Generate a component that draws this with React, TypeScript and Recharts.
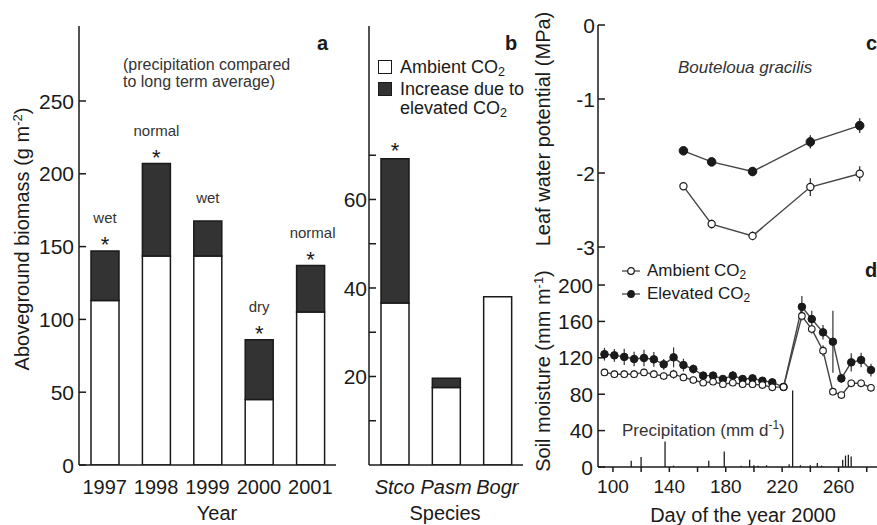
import React from "react";
import {
  BarChart, Bar, ComposedChart, Line, XAxis, YAxis,
  ErrorBar, LabelList, Legend, Label,
} from "recharts";

// ─── STYLE ────────────────────────────────────────────────────────────────────

const FONT = '"Liberation Sans", Arial, Helvetica, sans-serif';
const INK = "#1a1a1a";
const DARK = "#333333";
const LINE = "#444444";
const AXIS = { stroke: INK, strokeWidth: 1.5 };

// ─── DATA ─────────────────────────────────────────────────────────────────────

// a: aboveground biomass by year
const years = ["1997", "1998", "1999", "2000", "2001"];
const biomassAmbient = [113, 143.5, 143.5, 45, 105];
const biomassElevated = [147, 207, 167.5, 86, 137];
const precipNotes = ["wet", "normal", "wet", "dry", "normal"];
const biomassSig = [true, true, false, true, true];
const biomassTicks = [0, 50, 100, 150, 200, 250];

// b: biomass by species
const species = ["Stco", "Pasm", "Bogr"];
const speciesAmbient = [36.6, 17.5, 38];
const speciesElevated = [69.2, 19.6, 38];
const speciesSig = [true, false, false];
const speciesTicks = [10, 20, 30, 40, 50, 60, 70];
const speciesLabels = [20, 40, 60];

// c: leaf water potential, Bouteloua gracilis
const lwpDays = [150, 170, 199, 240, 275];
const lwpAmbient = [-2.18, -2.69, -2.85, -2.19, -2.01];
const lwpAmbientErr = [0.05, 0.06, 0.06, 0.12, 0.1];
const lwpElevated = [-1.7, -1.85, -1.98, -1.58, -1.36];
const lwpElevatedErr = [0.04, 0.05, 0.06, 0.09, 0.1];
const lwpTicks = [-3, -2, -1, 0];

// d: soil moisture + precipitation
const moistDays = [94, 101, 108, 115, 122, 129, 136, 143, 150, 157, 164, 171, 178, 185, 192, 199, 206, 213, 221, 234, 241, 249, 256, 262, 269, 276, 283];
const moistAmbient = [104, 102, 102, 102, 104, 102, 100, 102, 98.5, 95.6, 92.6, 93.7, 91, 92.6, 91, 91, 90, 87.6, 88, 166, 151.6, 127.8, 82.8, 79, 92, 92, 87];
const moistAmbientErr = [4, 4, 4, 4, 4, 4, 4, 5, 4, 4, 3, 3, 3, 3, 3, 3, 3, 3, 3, 5, 5, 6, 4, 3, 4, 4, 4];
const moistElevated = [124, 122.7, 121, 118.7, 119.8, 118.3, 112.8, 120.5, 112, 107.7, 100.4, 100.4, 96.7, 100.4, 96.7, 97.4, 94.8, 93, 88, 176, 162.6, 148, 137.7, 97.4, 115, 117.6, 106.6];
const moistElevatedErr = [7, 7, 9, 8, 9, 8, 6, 11, 7, 5, 4, 4, 4, 5, 4, 4, 4, 4, 3, 12, 9, 8, 34, 5, 10, 8, 7];
const precipDays = [113, 120, 137, 143, 168, 179, 191, 197, 200, 203, 209, 225, 227.5, 233, 240, 245, 248, 263, 265, 267, 269];
const precipValues = [7, 11, 28, 1.5, 7, 17, 1.5, 8, 2, 1.5, 2, 3, 84, 2, 2, 4.5, 1.5, 8, 12.5, 13.5, 11.5];
const moistTicks = [0, 40, 80, 120, 160, 200];
const dayTicks = [100, 120, 140, 160, 180, 200, 220, 240, 260, 280];
const dayLabels = [100, 140, 180, 220, 260];

// ─── ROWS ─────────────────────────────────────────────────────────────────────

const biomassRows = years.map((y, i) => ({
  year: y,
  amb: biomassAmbient[i],
  inc: biomassElevated[i] - biomassAmbient[i],
}));

const speciesRows = species.map((s, i) => ({
  sp: s,
  amb: speciesAmbient[i],
  inc: speciesElevated[i] - speciesAmbient[i],
}));

const lwpRows = lwpDays.map((d, i) => ({
  day: d,
  amb: lwpAmbient[i], ambErr: lwpAmbientErr[i],
  elev: lwpElevated[i], elevErr: lwpElevatedErr[i],
}));

const moistRows = moistDays.map((d, i) => ({
  day: d,
  amb: moistAmbient[i], ambErr: moistAmbientErr[i],
  elev: moistElevated[i], elevErr: moistElevatedErr[i],
}));

const precipRows = precipDays.map((d, i) => ({ day: d, p: precipValues[i] }));

// ─── TICKS ────────────────────────────────────────────────────────────────────

// y ticks drawn inward, label to the left
function leftTick(size: number, gap: number, labels?: number[]) {
  return ({ x, y, payload }: any) => {
    const show = !labels || labels.includes(payload.value);
    return (
      <g>
        <line x1={x} x2={x + 7} y1={y} y2={y} stroke={INK} strokeWidth={1.5} />
        {show && (
          <text x={x - gap} y={y} dy="0.36em" textAnchor="end" fontSize={size} fill={INK}>
            {payload.value}
          </text>
        )}
      </g>
    );
  };
}

function catTick(italic: boolean) {
  return ({ x, y, payload }: any) => (
    <text x={x} y={y + 29} textAnchor="middle" fontSize={20} fill={INK} fontStyle={italic ? "italic" : "normal"}>
      {payload.value}
    </text>
  );
}

const upTick = ({ x, y }: any) => (
  <line x1={x} x2={x} y1={y} y2={y - 7} stroke={INK} strokeWidth={1.5} />
);

const downTick = ({ x, y, payload }: any) => (
  <g>
    <line x1={x} x2={x} y1={y} y2={y + 5} stroke={INK} strokeWidth={1.5} />
    {dayLabels.includes(payload.value) && (
      <text x={x} y={y + 26} textAnchor="middle" fontSize={19} fill={INK}>{payload.value}</text>
    )}
  </g>
);

// ─── TITLES ───────────────────────────────────────────────────────────────────

function yTitle(content: React.ReactNode, cx: number, cy: number) {
  return () => (
    <text x={cx} y={cy} dy="0.36em" transform={`rotate(-90 ${cx} ${cy})`} textAnchor="middle" fontSize={20} fill={INK}>
      {content}
    </text>
  );
}

function xTitle(text: string, cx: number, cy: number) {
  return () => (
    <text x={cx} y={cy} dy="0.36em" textAnchor="middle" fontSize={20} fill={INK}>{text}</text>
  );
}

const Sub = ({ children }: { children: React.ReactNode }) => (
  <sub style={{ fontSize: "0.7em", verticalAlign: "-0.25em", lineHeight: 0 }}>{children}</sub>
);

// ─── BAR LABELS ───────────────────────────────────────────────────────────────

const biomassTop = (props: any) => {
  const { x, y, width, index } = props;
  const cx = x + width / 2;
  const sig = biomassSig[index];
  return (
    <g>
      {sig && <text x={cx} y={y + 1} textAnchor="middle" fontSize={22} fill={INK}>*</text>}
      <text x={cx + (index === 4 ? 2 : 0)} y={y - (sig ? 28 : 18)} textAnchor="middle" fontSize={15} fill={DARK}>
        {precipNotes[index]}
      </text>
    </g>
  );
};

const speciesTop = (props: any) => {
  const { x, y, width, index } = props;
  if (!speciesSig[index]) return null;
  return <text x={x + width / 2} y={y - 1} textAnchor="middle" fontSize={22} fill={INK}>*</text>;
};

// ─── LEGENDS ──────────────────────────────────────────────────────────────────

const Swatch = ({ fill }: { fill: string }) => (
  <span style={{ display: "inline-block", width: 12, height: 12, border: `1.5px solid ${INK}`, background: fill, marginRight: 8, marginTop: 2, flex: "none" }} />
);

const speciesLegend = () => (
  <div style={{ fontSize: 18, lineHeight: "19px", color: INK, fontFamily: FONT }}>
    <div style={{ display: "flex", alignItems: "flex-start", marginBottom: 3 }}>
      <Swatch fill="#fff" /><span>Ambient CO<Sub>2</Sub></span>
    </div>
    <div style={{ display: "flex", alignItems: "flex-start" }}>
      <Swatch fill={DARK} /><span>Increase due to<br />elevated CO<Sub>2</Sub></span>
    </div>
  </div>
);

const LegendMark = ({ fill }: { fill: string }) => (
  <svg width={18} height={10} style={{ marginRight: 7 }}>
    <line x1={0} x2={18} y1={5} y2={5} stroke={LINE} strokeWidth={1.3} />
    <circle cx={9} cy={5} r={3.3} fill={fill} stroke={INK} strokeWidth={1.2} />
  </svg>
);

const moistLegend = () => (
  <div style={{ fontSize: 17, lineHeight: "23px", color: INK, fontFamily: FONT }}>
    <div style={{ display: "flex", alignItems: "center" }}>
      <LegendMark fill="#fff" /><span>Ambient CO<Sub>2</Sub></span>
    </div>
    <div style={{ display: "flex", alignItems: "center" }}>
      <LegendMark fill={INK} /><span>Elevated CO<Sub>2</Sub></span>
    </div>
  </div>
);

// ─── FREE TEXT ────────────────────────────────────────────────────────────────

function Note({ x, y, size, bold, italic, color, children }: any) {
  return (
    <div style={{
      position: "absolute", left: x, top: y - size / 2, fontSize: size, lineHeight: 1,
      fontWeight: bold ? 700 : 400, fontStyle: italic ? "italic" : "normal",
      color: color ?? INK, whiteSpace: "nowrap",
    }}>
      {children}
    </div>
  );
}

// ─── PANELS ───────────────────────────────────────────────────────────────────

function PanelA() {
  return (
    <div style={{ position: "absolute", left: 0, top: 0 }}>
      <BarChart width={340} height={525} data={biomassRows} margin={{ top: 26, right: 4, bottom: 0, left: 0 }}>
        <XAxis dataKey="year" height={60} tickSize={0} tickMargin={0} tickLine={false} interval={0} tick={catTick(false)} axisLine={AXIS}>
          <Label content={xTitle("Year", 217, 513)} />
        </XAxis>
        <XAxis xAxisId="top" dataKey="year" orientation="top" height={0} tick={false} tickLine={false} axisLine={AXIS} />
        <YAxis width={79} domain={[0, 301.5]} allowDataOverflow ticks={biomassTicks} interval={0} tickSize={0} tickMargin={0} tickLine={false} tick={leftTick(21, 5)} axisLine={AXIS}>
          <Label content={yTitle(<><tspan>Aboveground biomass (g m</tspan><tspan dy={-7} fontSize={13}>-2</tspan><tspan dy={7}>)</tspan></>, 22, 239)} />
        </YAxis>
        <YAxis yAxisId="right" orientation="right" width={0} domain={[0, 1]} tick={false} tickLine={false} axisLine={AXIS} />
        <Bar dataKey="amb" stackId="s" barSize={28} fill="#fff" stroke={INK} strokeWidth={1.5} isAnimationActive={false} />
        <Bar dataKey="inc" stackId="s" barSize={28} fill={DARK} stroke={INK} strokeWidth={1.5} isAnimationActive={false}>
          <LabelList dataKey="inc" content={biomassTop} />
        </Bar>
      </BarChart>
    </div>
  );
}

function PanelB() {
  return (
    <div style={{ position: "absolute", left: 340, top: 0 }}>
      <BarChart width={185} height={525} data={speciesRows} margin={{ top: 26, right: 2, bottom: 0, left: 0 }}>
        <XAxis dataKey="sp" height={60} tickSize={0} tickMargin={0} tickLine={false} interval={0} tick={catTick(true)} axisLine={AXIS}>
          <Label content={xTitle("Species", 105, 513)} />
        </XAxis>
        <XAxis xAxisId="top" dataKey="sp" orientation="top" height={0} tick={false} tickLine={false} axisLine={AXIS} />
        <YAxis width={29} domain={[0, 99.2]} allowDataOverflow ticks={speciesTicks} interval={0} tickSize={0} tickMargin={0} tickLine={false} tick={leftTick(21, 2, speciesLabels)} axisLine={AXIS} />
        <YAxis yAxisId="right" orientation="right" width={0} domain={[0, 1]} tick={false} tickLine={false} axisLine={AXIS} />
        <Legend layout="horizontal" verticalAlign="middle" align="center" content={speciesLegend} wrapperStyle={{ left: 38, top: 58, width: "auto" }} />
        <Bar dataKey="amb" stackId="s" barSize={28} fill="#fff" stroke={INK} strokeWidth={1.5} isAnimationActive={false} />
        <Bar dataKey="inc" stackId="s" barSize={28} fill={DARK} stroke={INK} strokeWidth={1.5} isAnimationActive={false}>
          <LabelList dataKey="inc" content={speciesTop} />
        </Bar>
      </BarChart>
    </div>
  );
}

const DAY_DOMAIN: [number, number] = [89.4, 289.4];

function PanelC() {
  // extra bottom margin keeps the "-3" label inside the svg
  return (
    <div style={{ position: "absolute", left: 520, top: 0 }}>
      <ComposedChart width={360} height={262} data={lwpRows} margin={{ top: 25, right: 0, bottom: 15, left: 0 }}>
        <XAxis dataKey="day" type="number" domain={DAY_DOMAIN} allowDataOverflow ticks={dayTicks} interval={0} height={0} tickSize={0} tickMargin={0} tickLine={false} tick={upTick} axisLine={AXIS} />
        <XAxis xAxisId="top" dataKey="day" type="number" domain={DAY_DOMAIN} allowDataOverflow orientation="top" height={0} tick={false} tickLine={false} axisLine={AXIS} />
        <YAxis width={78} domain={[-3, 0]} allowDataOverflow ticks={lwpTicks} interval={0} tickSize={0} tickMargin={0} tickLine={false} tick={leftTick(21, 3)} axisLine={AXIS}>
          <Label content={yTitle("Leaf water potential (MPa)", 23, 129)} />
        </YAxis>
        <Line dataKey="elev" stroke={LINE} strokeWidth={1.4} isAnimationActive={false}
          dot={{ r: 4.3, fill: INK, stroke: INK, strokeWidth: 1 }}>
          <ErrorBar dataKey="elevErr" width={0} stroke={DARK} strokeWidth={1.3} direction="y" />
        </Line>
        <Line dataKey="amb" stroke={LINE} strokeWidth={1.4} isAnimationActive={false}
          dot={{ r: 3.6, fill: "#fff", stroke: INK, strokeWidth: 1.2 }}>
          <ErrorBar dataKey="ambErr" width={0} stroke={DARK} strokeWidth={1.3} direction="y" />
        </Line>
      </ComposedChart>
    </div>
  );
}

function PanelD() {
  return (
    <div style={{ position: "absolute", left: 520, top: 247 }}>
      <ComposedChart width={360} height={278} data={precipRows} margin={{ top: 0, right: 0, bottom: 0, left: 0 }}>
        <XAxis dataKey="day" type="number" domain={DAY_DOMAIN} allowDataOverflow ticks={dayTicks} interval={0} height={58} tickSize={0} tickMargin={0} tickLine={false} tick={downTick} axisLine={AXIS}>
          <Label content={xTitle("Day of the year 2000", 223, 268)} />
        </XAxis>
        <YAxis width={78} domain={[0, 241.8]} allowDataOverflow ticks={moistTicks} interval={0} tickSize={0} tickMargin={0} tickLine={false} tick={leftTick(21, 5)} axisLine={AXIS}>
          <Label content={yTitle(<><tspan>Soil moisture (mm m</tspan><tspan dy={-7} fontSize={13}>-1</tspan><tspan dy={7}>)</tspan></>, 23, 124)} />
        </YAxis>
        <Legend layout="horizontal" verticalAlign="middle" align="center" content={moistLegend} wrapperStyle={{ left: 102, top: 12, width: "auto" }} />
        <Bar dataKey="p" barSize={2} fill={INK} isAnimationActive={false} />
        <Line data={moistRows} dataKey="elev" stroke={LINE} strokeWidth={1.4} isAnimationActive={false}
          dot={{ r: 3.8, fill: INK, stroke: INK, strokeWidth: 1 }}>
          <ErrorBar dataKey="elevErr" width={0} stroke={DARK} strokeWidth={1.2} direction="y" />
        </Line>
        <Line data={moistRows} dataKey="amb" stroke={LINE} strokeWidth={1.4} isAnimationActive={false}
          dot={{ r: 3.3, fill: "#fff", stroke: INK, strokeWidth: 1.1 }}>
          <ErrorBar dataKey="ambErr" width={0} stroke={DARK} strokeWidth={1.2} direction="y" />
        </Line>
      </ComposedChart>
    </div>
  );
}

// ─── APP ──────────────────────────────────────────────────────────────────────

export default function App() {
  return (
    <div style={{ position: "absolute", left: 0, top: 0, width: 877, height: 525, overflow: "hidden", background: "#fff", fontFamily: FONT, color: INK }}>
      <PanelA />
      <PanelB />
      <PanelC />
      <PanelD />

      <Note x={123} y={65} size={16} color={DARK}>(precipitation compared</Note>
      <Note x={123} y={82} size={16} color={DARK}>to long term average)</Note>
      <Note x={317} y={43} size={20} bold>a</Note>
      <Note x={505} y={43} size={20} bold>b</Note>
      <Note x={866} y={43} size={20} bold>c</Note>
      <Note x={865} y={270} size={20} bold>d</Note>
      <Note x={678} y={67} size={17} italic color={DARK}>Bouteloua gracilis</Note>
      <Note x={622} y={430} size={17} color={DARK}>
        Precipitation (mm d<sup style={{ fontSize: "0.7em", lineHeight: 0 }}>-1</sup>)
      </Note>
    </div>
  );
}
